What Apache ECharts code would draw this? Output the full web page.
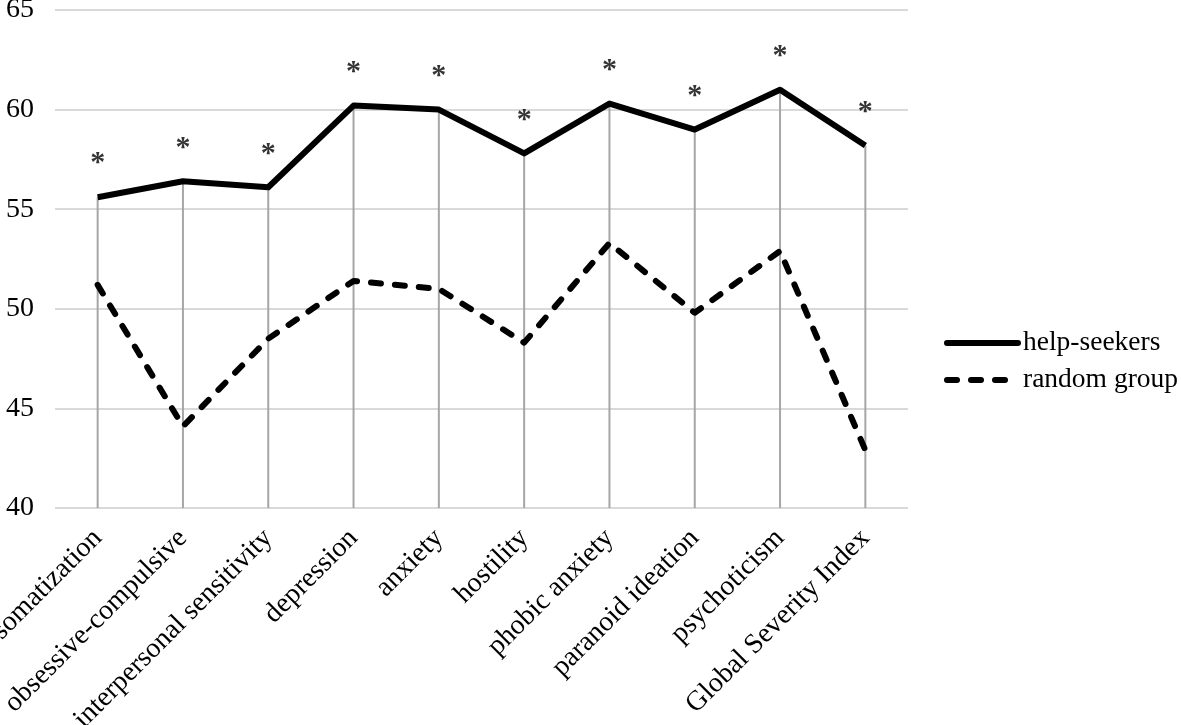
<!DOCTYPE html>
<html>
<head>
<meta charset="utf-8">
<script src="https://cdn.jsdelivr.net/npm/echarts@6/dist/echarts.min.js"></script>
<style>html,body{margin:0;padding:0;background:#fff;}#c{width:1181px;height:725px;}</style>
</head>
<body>
<div id="c"></div>
<script>
const categories = ['somatization','obsessive-compulsive','interpersonal sensitivity','depression','anxiety','hostility','phobic anxiety','paranoid ideation','psychoticism','Global Severity Index'];
const helpSeekers = [55.6, 56.4, 56.1, 60.2, 60.0, 57.8, 60.3, 59.0, 61.0, 58.2];
const randomGroup = [51.2, 44.1, 48.5, 51.4, 51.0, 48.3, 53.3, 49.8, 52.9, 42.9];
const significance = ['*','*','*','*','*','*','*','*','*','*'];
const yTicks = [40, 45, 50, 55, 60, 65];

const font = 'Liberation Serif';
const dash = [10, 14];
const chart = echarts.init(document.getElementById('c'), null, {renderer: 'canvas'});
chart.setOption({
  animation: false,
  backgroundColor: '#fff',
  grid: {left: 55, right: 273, top: 10, bottom: 217, containLabel: false, outerBoundsMode: 'none'},
  legend: {
    data: [
      {name: 'help-seekers', lineStyle: {width: 6, color: '#000', type: 'solid', cap: 'round'}},
      {name: 'random group', lineStyle: {width: 6, color: '#000', type: dash, cap: 'round'}}
    ],
    orient: 'vertical',
    left: 944,
    top: 329,
    padding: 0,
    itemWidth: 71,
    itemHeight: 28,
    itemGap: 9,
    itemStyle: {opacity: 0},
    textStyle: {fontFamily: font, fontSize: 27.5, color: '#000'}
  },
  xAxis: {
    type: 'category',
    data: categories,
    boundaryGap: true,
    axisLine: {show: false},
    axisTick: {show: false},
    axisLabel: {rotate: 45, interval: 0, margin: 26, fontFamily: font, fontSize: 28, color: '#000'}
  },
  yAxis: {
    type: 'value',
    min: yTicks[0],
    max: yTicks[yTicks.length - 1],
    interval: 5,
    axisLine: {show: false},
    axisTick: {show: false},
    splitLine: {lineStyle: {color: '#d9d9d9', width: 2}},
    axisLabel: {margin: 21, fontFamily: font, fontSize: 28, color: '#000'}
  },
  series: [
    {
      name: 'drop',
      type: 'bar',
      data: helpSeekers,
      barWidth: 2,
      itemStyle: {color: '#a6a6a6'},
      z: 1,
      silent: true
    },
    {
      name: 'help-seekers',
      type: 'line',
      data: helpSeekers,
      symbol: 'none',
      lineStyle: {color: '#000', width: 6, join: 'round'},
      itemStyle: {color: '#000'},
      z: 3
    },
    {
      name: 'random group',
      type: 'line',
      data: randomGroup,
      symbol: 'none',
      lineStyle: {color: '#000', width: 6, type: dash, cap: 'round', join: 'round'},
      itemStyle: {color: '#000'},
      z: 3
    },
    {
      name: 'significance',
      type: 'scatter',
      data: helpSeekers,
      symbol: 'circle',
      symbolSize: 1,
      itemStyle: {color: 'rgba(0,0,0,0)'},
      silent: true,
      z: 4,
      label: {
        show: true,
        position: 'top',
        distance: 18,
        formatter: p => significance[p.dataIndex],
        fontFamily: font,
        fontSize: 30,
        fontWeight: 'bold',
        color: '#000'
      }
    }
  ]
});
</script>
</body>
</html>
